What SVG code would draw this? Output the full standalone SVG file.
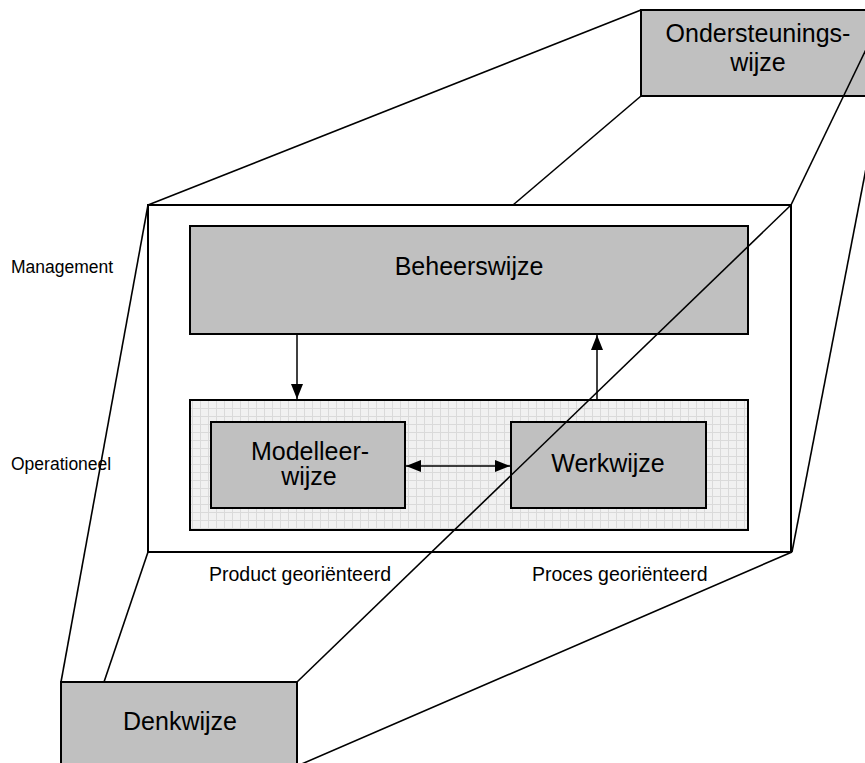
<svg xmlns="http://www.w3.org/2000/svg" width="865" height="763" viewBox="0 0 865 763">
  <style>
    .box { fill: #c0c0c0; stroke: #000; stroke-width: 2; }
    .frame { fill: none; stroke: #000; stroke-width: 2; }
    .lbl { font-family: "Liberation Sans", Arial, sans-serif; fill: #000; }
    .big { font-size: 25px; text-anchor: middle; }
    .side { font-size: 17.5px; }
    .axis { font-size: 19.5px; }
    .edge { fill: none; stroke: #000; stroke-width: 1.6; }
    .arrow { fill: none; stroke: #000; stroke-width: 1.5; }
  </style>
  <defs>
    <pattern id="raster" width="8" height="8" patternUnits="userSpaceOnUse">
      <rect width="8" height="8" fill="#f1f1f1"/>
      <path d="M0.5,0 V8 M0,0.5 H8" stroke="#dadada" stroke-width="1"/>
    </pattern>
    <marker id="pijl" markerUnits="userSpaceOnUse" markerWidth="15" markerHeight="12" refX="15" refY="6" orient="auto-start-reverse">
      <path d="M0,0 L15,6 L0,12 Z" fill="#000"/>
    </marker>
  </defs>

  <!-- back layer -->
  <g id="ondersteuningswijze">
    <rect class="box" x="641" y="10" width="240" height="86"/>
    <text class="lbl big" x="758" y="42">Ondersteunings-</text>
    <text class="lbl big" x="758" y="71">wijze</text>
  </g>

  <!-- middle layer frame -->
  <g id="kader">
    <rect class="frame" x="148" y="205" width="643" height="347"/>
  </g>

  <g id="beheerswijze">
    <rect class="box" x="190" y="226" width="558" height="108"/>
    <text class="lbl big" x="469" y="275">Beheerswijze</text>
  </g>

  <g id="operationele-laag">
    <rect x="190" y="400" width="558" height="130" fill="url(#raster)" stroke="#000" stroke-width="2"/>
  </g>

  <g id="modelleerwijze">
    <rect class="box" x="211" y="422" width="194" height="86"/>
    <text class="lbl big" x="310" y="460">Modelleer-</text>
    <text class="lbl big" x="309" y="485">wijze</text>
  </g>

  <g id="werkwijze">
    <rect class="box" x="511" y="422" width="195" height="86"/>
    <text class="lbl big" x="608" y="472">Werkwijze</text>
  </g>

  <!-- front layer -->
  <g id="denkwijze">
    <rect class="box" x="61" y="682" width="236" height="100"/>
    <text class="lbl big" x="180" y="730">Denkwijze</text>
  </g>

  <g id="labels">
    <text class="lbl side" x="11" y="273">Management</text>
    <text class="lbl side" x="11" y="470">Operationeel</text>
    <text class="lbl axis" x="209" y="581">Product georiënteerd</text>
    <text class="lbl axis" x="532" y="581">Proces georiënteerd</text>
  </g>

  <g id="verbindingen">
    <!-- perspective edges -->
    <line class="edge" x1="641" y1="10" x2="148" y2="205"/>
    <line class="edge" x1="641" y1="96" x2="513" y2="205"/>
    <line class="edge" x1="885" y1="10" x2="791" y2="205"/>
    <line class="edge" x1="880" y1="96" x2="792" y2="552"/>
    <line class="edge" x1="148" y1="205" x2="61" y2="682"/>
    <line class="edge" x1="148" y1="552" x2="104" y2="682"/>
    <line class="edge" x1="791" y1="205" x2="297" y2="682"/>
    <line class="edge" x1="792" y1="552" x2="297" y2="766"/>
    <!-- flows -->
    <line class="arrow" x1="297" y1="334" x2="297" y2="399" marker-end="url(#pijl)"/>
    <line class="arrow" x1="597" y1="400" x2="597" y2="335" marker-end="url(#pijl)"/>
    <line class="arrow" x1="406" y1="466" x2="510" y2="466" marker-start="url(#pijl)" marker-end="url(#pijl)"/>
  </g>
</svg>
